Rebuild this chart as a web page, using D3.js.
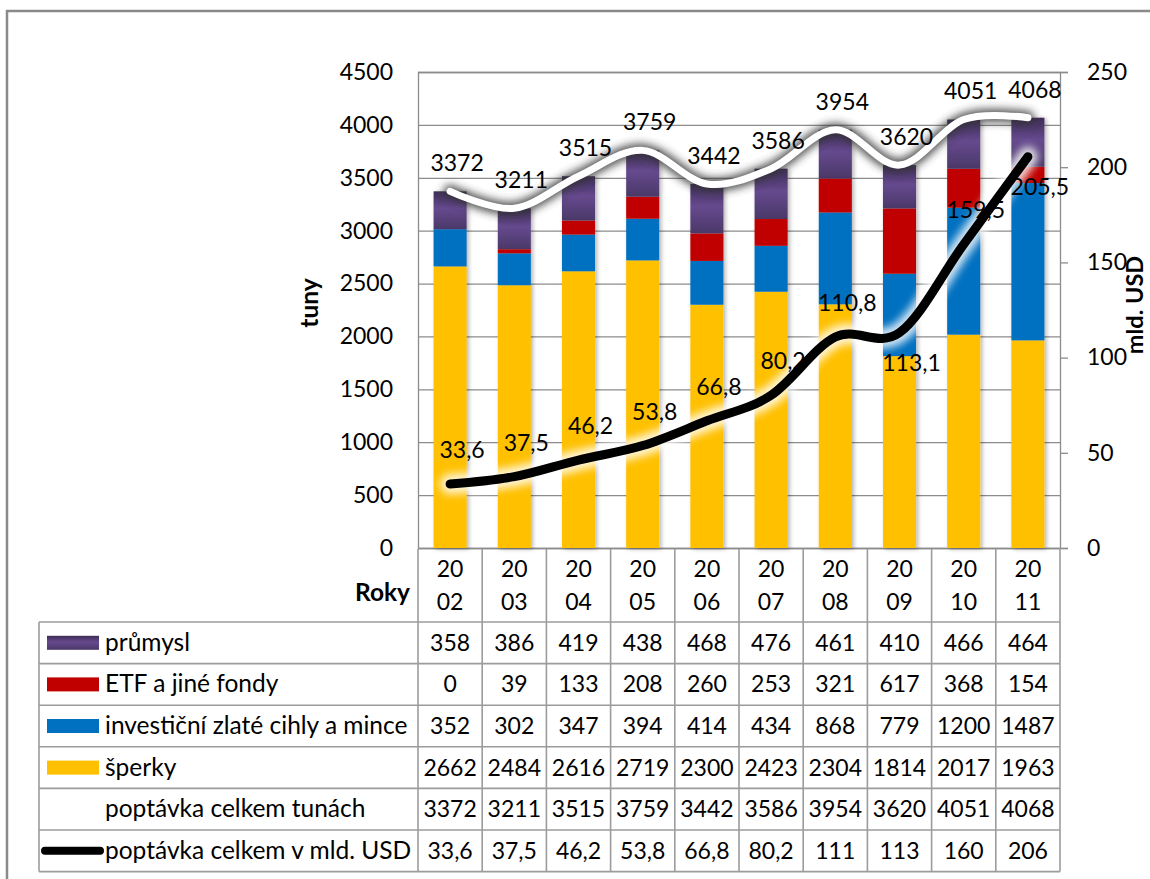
<!DOCTYPE html>
<html><head><meta charset="utf-8">
<script src="https://cdn.jsdelivr.net/npm/d3@7"></script>
<style>
body{margin:0;background:#fff}
svg text{font-family:Lato,'Open Sans',sans-serif;fill:#000}
</style>
</head><body>
<svg id="c" width="1150" height="879"></svg>
<script>
// ---- data ----
const years = ['2002','2003','2004','2005','2006','2007','2008','2009','2010','2011'];
const prumysl = [358,386,419,438,468,476,461,410,466,464];
const etf = [0,39,133,208,260,253,321,617,368,154];
const invest = [352,302,347,394,414,434,868,779,1200,1487];
const sperky = [2662,2484,2616,2719,2300,2423,2304,1814,2017,1963];
const totalTons = [3372,3211,3515,3759,3442,3586,3954,3620,4051,4068];
const totalUsd = [33.6,37.5,46.2,53.8,66.8,80.2,110.8,113.1,159.5,205.5];
const leftTicks = [0,500,1000,1500,2000,2500,3000,3500,4000,4500];
const rightTicks = [0,50,100,150,200,250];
const seriesNames = ['průmysl','ETF a jiné fondy','investiční zlaté cihly a mince','šperky','poptávka celkem tunách','poptávka celkem v mld. USD'];
// layout: which USD labels sit below their point
const usdLabelBelow = [7,9];

// ---- setup ----
const svg = d3.select('#c');
const FN = 23;     // numbers
const FT = 24.5;   // words
const L = 418, R = 1060, T = 72, B = 548;
const x = d3.scaleBand().domain(years).range([L,R]).padding(0);
const bw = x.bandwidth();
const barW = bw*0.515;
const cx = y => x(y) + bw/2;
const yL = d3.scaleLinear().domain([0,4500]).range([B,T]);
const yR = d3.scaleLinear().domain([0,250]).range([B,T]);
const fmt = v => String(v).replace('.',',');

const defs = svg.append('defs');
const pg = defs.append('linearGradient').attr('id','purp').attr('x1',0).attr('y1',0).attr('x2',0).attr('y2',1);
pg.append('stop').attr('offset','0').attr('stop-color','#3d2e55');
pg.append('stop').attr('offset','0.45').attr('stop-color','#66498e');
pg.append('stop').attr('offset','1').attr('stop-color','#4a3868');
const sh = defs.append('filter').attr('id','barsh').attr('x','-30%').attr('y','-10%').attr('width','160%').attr('height','120%');
sh.append('feDropShadow').attr('dx',2).attr('dy',1).attr('stdDeviation',2).attr('flood-color','#000').attr('flood-opacity',0.3);
const bl4 = defs.append('filter').attr('id','blur4').attr('x','-20%').attr('y','-50%').attr('width','140%').attr('height','200%');
bl4.append('feGaussianBlur').attr('stdDeviation',4.5);
const bl5 = defs.append('filter').attr('id','blur5').attr('x','-20%').attr('y','-50%').attr('width','140%').attr('height','200%');
bl5.append('feGaussianBlur').attr('stdDeviation',4);

svg.append('rect').attr('width',1150).attr('height',879).attr('fill','#fff');
// frame
svg.append('rect').attr('x',7).attr('y',11).attr('width',1300).attr('height',1000)
  .attr('fill','none').attr('stroke','#8a8a8a').attr('stroke-width',2.5);

// ---- axes & grid ----
const gL = svg.append('g').attr('transform',`translate(${L},0)`)
  .call(d3.axisLeft(yL).tickValues(leftTicks).tickSize(-(R-L)).tickPadding(25).tickFormat(d3.format('d')));
gL.select('.domain').attr('stroke','#8c8c8c').attr('stroke-width',1.3);
gL.selectAll('.tick line').attr('stroke','#8c8c8c').attr('stroke-width',1.3);
gL.selectAll('.tick text').attr('font-size',FN).attr('font-family','Lato').attr('fill','#000');

const gR = svg.append('g').attr('transform',`translate(${R},0)`)
  .call(d3.axisRight(yR).tickValues(rightTicks).tickSize(8).tickPadding(19).tickFormat(d3.format('d')));
gR.select('.domain').attr('stroke','#8c8c8c').attr('stroke-width',1.3);
gR.selectAll('.tick line').attr('stroke','#8c8c8c').attr('stroke-width',1.3);
gR.selectAll('.tick text').attr('font-size',FN).attr('font-family','Lato').attr('fill','#000');

// ---- stacked bars ----
const keys = ['sperky','invest','etf','prumysl'];
const colors = {sperky:'#ffc000', invest:'#0070c0', etf:'#c00000', prumysl:'url(#purp)'};
const rows = years.map((y,i)=>({year:y, sperky:sperky[i], invest:invest[i], etf:etf[i], prumysl:prumysl[i]}));
const stacked = d3.stack().keys(keys)(rows);
const gb = svg.append('g').attr('filter','url(#barsh)');
gb.selectAll('g').data(stacked).join('g').attr('fill',d=>colors[d.key])
  .selectAll('rect').data(d=>d).join('rect')
  .attr('x',d=>cx(d.data.year)-barW/2).attr('width',barW)
  .attr('y',d=>yL(d[1])).attr('height',d=>yL(d[0])-yL(d[1]));

// ---- lines ----
const curve = d3.curveCatmullRom.alpha(0);
const lineT = d3.line().x((d,i)=>cx(years[i])).y(d=>yL(d)).curve(curve);
const lineU = d3.line().x((d,i)=>cx(years[i])).y(d=>yR(d)).curve(curve);

svg.append('path').attr('d',lineT(totalTons)).attr('fill','none').attr('stroke','#333')
  .attr('stroke-width',13).attr('stroke-linecap','round').attr('opacity',0.85).attr('filter','url(#blur4)');
svg.append('path').attr('d',lineT(totalTons)).attr('fill','none').attr('stroke','#fff')
  .attr('stroke-width',7).attr('stroke-linecap','round');

svg.append('path').attr('d',lineU(totalUsd)).attr('fill','none').attr('stroke','#fff')
  .attr('stroke-width',20).attr('stroke-linecap','round').attr('opacity',0.85).attr('filter','url(#blur5)');
svg.append('path').attr('d',lineU(totalUsd)).attr('fill','none').attr('stroke','#000')
  .attr('stroke-width',9).attr('stroke-linecap','round').attr('stroke-linejoin','round');

// ---- data labels ----
svg.append('g').selectAll('text').data(totalTons).join('text')
  .attr('x',(d,i)=>cx(years[i])+7).attr('y',d=>yL(d)-20)
  .attr('text-anchor','middle').attr('font-size',FN).text(d=>d);
svg.append('g').selectAll('text').data(totalUsd).join('text')
  .attr('x',(d,i)=>cx(years[i])+12)
  .attr('y',(d,i)=>usdLabelBelow.includes(i) ? yR(d)+38 : yR(d)-26)
  .attr('text-anchor','middle').attr('font-size',FN).text(d=>fmt(d));

// ---- axis titles ----
svg.append('text').attr('transform','translate(308,303) rotate(-90)').attr('text-anchor','middle')
  .attr('dominant-baseline','central').attr('font-size',FT).attr('font-weight','bold').text('tuny');
svg.append('text').attr('transform','translate(1134,305) rotate(-90)').attr('text-anchor','middle')
  .attr('dominant-baseline','central').attr('font-size',23.5).attr('font-weight','bold').text('mld. USD');
svg.append('text').attr('x',410).attr('y',601).attr('text-anchor','end')
  .attr('font-size',FT).attr('font-weight','bold').text('Roky');

// ---- data table ----
const tL = 39, tT = 622, rowH = 41.6, nRows = 6, tB = tT + rowH*nRows;
const gt = svg.append('g');
const lineC = '#9c9c9c';
d3.range(nRows+1).forEach(k=>{
  gt.append('line').attr('x1',tL).attr('x2',R).attr('y1',tT+k*rowH).attr('y2',tT+k*rowH)
    .attr('stroke',lineC).attr('stroke-width',1.6);
});
gt.append('line').attr('x1',tL).attr('x2',tL).attr('y1',tT).attr('y2',tB).attr('stroke',lineC).attr('stroke-width',1.6);
years.forEach((y,i)=>{
  gt.append('line').attr('x1',x(y)).attr('x2',x(y)).attr('y1',B+1).attr('y2',tB).attr('stroke',lineC).attr('stroke-width',1.6);
});
gt.append('line').attr('x1',R).attr('x2',R).attr('y1',B).attr('y2',tB).attr('stroke',lineC).attr('stroke-width',1.6);

// header years
years.forEach(y=>{
  gt.append('text').attr('x',cx(y)).attr('y',577).attr('text-anchor','middle').attr('font-size',FN).text(y.slice(0,2));
  gt.append('text').attr('x',cx(y)).attr('y',610).attr('text-anchor','middle').attr('font-size',FN).text(y.slice(2));
});

const tableVals = [
  prumysl.map(String), etf.map(String), invest.map(String), sperky.map(String),
  totalTons.map(String), totalUsd.map(v=>v.toPrecision(3).replace('.',','))
];
const keyFill = ['url(#purp)','#c00000','#0070c0','#ffc000',null,'line'];
seriesNames.forEach((name,r)=>{
  const cy = tT + rowH*(r+0.5);
  if (keyFill[r]==='line') {
    gt.append('line').attr('x1',45).attr('x2',100).attr('y1',cy).attr('y2',cy)
      .attr('stroke','#000').attr('stroke-width',8).attr('stroke-linecap','round');
  } else if (keyFill[r]) {
    gt.append('rect').attr('x',47).attr('y',cy-7).attr('width',52).attr('height',14).attr('fill',keyFill[r]);
  }
  gt.append('text').attr('x',105).attr('y',cy+8).attr('font-size',FT).text(name);
  tableVals[r].forEach((v,i)=>{
    gt.append('text').attr('x',cx(years[i])).attr('y',cy+8).attr('text-anchor','middle').attr('font-size',FN).text(v);
  });
});
</script>
</body></html>
